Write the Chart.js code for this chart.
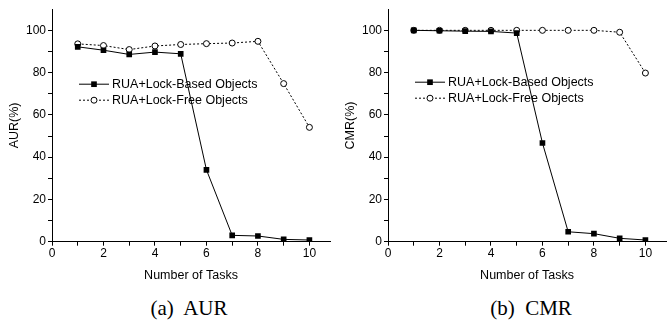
<!DOCTYPE html>
<html>
<head>
<meta charset="utf-8">
<script src="https://cdn.jsdelivr.net/npm/chart.js@4.4.1/dist/chart.umd.min.js"></script>
<style>
  body { margin: 0; background: #fff; width: 671px; height: 327px; position: relative; overflow: hidden; }
  .panel { position: absolute; top: 0; width: 335px; height: 285px; }
  .caption { position: absolute; top: 296px; font-family: "Liberation Serif", "Times New Roman", serif; font-size: 21px; color: #000; white-space: pre; transform: translateX(-50%); }
</style>
</head>
<body>
<div class="panel" style="left:0px"><canvas id="aurChart"></canvas></div>
<div class="panel" style="left:336px"><canvas id="cmrChart"></canvas></div>
<div class="caption" style="left:189px">(a)  AUR</div>
<div class="caption" style="left:531px">(b)  CMR</div>

<script>
const tasks = [1, 2, 3, 4, 5, 6, 7, 8, 9, 10];

const aurLockBased = [92.2, 90.6, 88.6, 89.7, 88.9, 34.0, 3.0, 2.7, 1.1, 0.8];
const aurLockFree = [93.6, 92.8, 90.9, 92.6, 93.3, 93.7, 94.0, 94.8, 74.8, 54.1];

const cmrLockBased = [100, 99.8, 99.6, 99.5, 98.7, 46.7, 4.7, 3.8, 1.6, 0.8];
const cmrLockFree = [100, 100, 100, 100, 100, 100, 100, 100, 99.1, 79.8];

const seriesNames = ['RUA+Lock-Based Objects', 'RUA+Lock-Free Objects'];
const xTicks = [0, 1, 2, 3, 4, 5, 6, 7, 8, 9, 10];
const yTicks = [0, 10, 20, 30, 40, 50, 60, 70, 80, 90, 100];

const sansFont = 'Arial, "Liberation Sans", sans-serif';

// legend drawn inside the plot, with a line through each marker
const lineLegend = {
  id: 'lineLegend',
  afterDraw(chart, args, opts) {
    const ctx = chart.ctx;
    const area = chart.chartArea;
    chart.data.datasets.forEach((ds, i) => {
      const x0 = area.left + opts.x;
      const y = area.top + opts.y + i * 16;
      ctx.save();
      ctx.strokeStyle = '#000';
      ctx.lineWidth = 1;
      ctx.setLineDash(ds.borderDash || []);
      ctx.beginPath();
      ctx.moveTo(x0, y);
      ctx.lineTo(x0 + 30, y);
      ctx.stroke();
      ctx.setLineDash([]);
      ctx.fillStyle = ds.pointBackgroundColor;
      ctx.beginPath();
      if (ds.pointStyle === 'circle') {
        ctx.arc(x0 + 15, y, ds.pointRadius, 0, Math.PI * 2);
        ctx.fill();
        ctx.stroke();
      } else {
        const s = ds.pointRadius * Math.SQRT1_2;
        ctx.fillRect(x0 + 15 - s, y - s, 2 * s, 2 * s);
      }
      ctx.fillStyle = '#000';
      ctx.font = '12.5px ' + sansFont;
      ctx.textBaseline = 'middle';
      ctx.fillText(ds.label, x0 + 33, y + 0.5);
      ctx.restore();
    });
  }
};

function makeChart(id, title, lockBased, lockFree, legendY) {
  const ctx = document.getElementById(id).getContext('2d');
  return new Chart(ctx, {
    type: 'line',
    data: {
      labels: tasks,
      datasets: [{
        label: seriesNames[0],
        data: tasks.map((t, i) => ({ x: t, y: lockBased[i] })),
        borderColor: '#000',
        borderWidth: 1,
        pointStyle: 'rect',
        pointRadius: 4,
        pointBackgroundColor: '#000',
        pointBorderColor: '#000',
        pointBorderWidth: 0,
        tension: 0
      }, {
        label: seriesNames[1],
        data: tasks.map((t, i) => ({ x: t, y: lockFree[i] })),
        borderColor: '#000',
        borderWidth: 1,
        borderDash: [2, 2],
        pointStyle: 'circle',
        pointRadius: 3,
        pointBackgroundColor: '#fff',
        pointBorderColor: '#000',
        pointBorderWidth: 1,
        tension: 0
      }]
    },
    options: {
      responsive: false,
      animation: false,
      layout: { padding: { top: 7, right: 0, bottom: 0, left: 0 } },
      plugins: {
        legend: { display: false },
        tooltip: { enabled: false },
        lineLegend: { x: 27, y: legendY }
      },
      scales: {
        x: {
          type: 'linear',
          min: 0,
          max: 10.8,
          afterFit: s => { s.height = 43.3; },
          afterBuildTicks: s => { s.ticks = xTicks.map(v => ({ value: v })); },
          grid: { drawOnChartArea: false, drawTicks: true, tickLength: 4, color: '#000', tickColor: '#000' },
          border: { display: true, color: '#000', width: 1 },
          ticks: {
            color: '#000',
            padding: 1,
            maxRotation: 0,
            autoSkip: false,
            font: { family: sansFont, size: 12 },
            callback: v => (v % 2 === 0 ? v : '')
          },
          title: {
            display: true,
            text: 'Number of Tasks',
            color: '#000',
            padding: { top: 0, bottom: 2 },
            font: { family: sansFont, size: 12.5 }
          }
        },
        y: {
          min: 0,
          max: 110,
          afterFit: s => { s.width = 52; },
          afterBuildTicks: s => { s.ticks = yTicks.map(v => ({ value: v })); },
          grid: { drawOnChartArea: false, drawTicks: true, tickLength: 4, color: '#000', tickColor: '#000' },
          border: { display: true, color: '#000', width: 1 },
          ticks: {
            color: '#000',
            padding: 2,
            autoSkip: false,
            font: { family: sansFont, size: 12 },
            callback: v => (v % 20 === 0 ? v : '')
          },
          title: {
            display: true,
            text: title,
            color: '#000',
            padding: { top: 7, bottom: 0 },
            font: { family: sansFont, size: 12.5 }
          }
        }
      }
    },
    plugins: [lineLegend]
  });
}

function sizeCanvas(id) {
  const c = document.getElementById(id);
  c.width = 335;
  c.height = 285;
  c.style.width = '335px';
  c.style.height = '285px';
}

sizeCanvas('aurChart');
sizeCanvas('cmrChart');
makeChart('aurChart', 'AUR(%)', aurLockBased, aurLockFree, 75);
makeChart('cmrChart', 'CMR(%)', cmrLockBased, cmrLockFree, 73);
</script>
</body>
</html>
